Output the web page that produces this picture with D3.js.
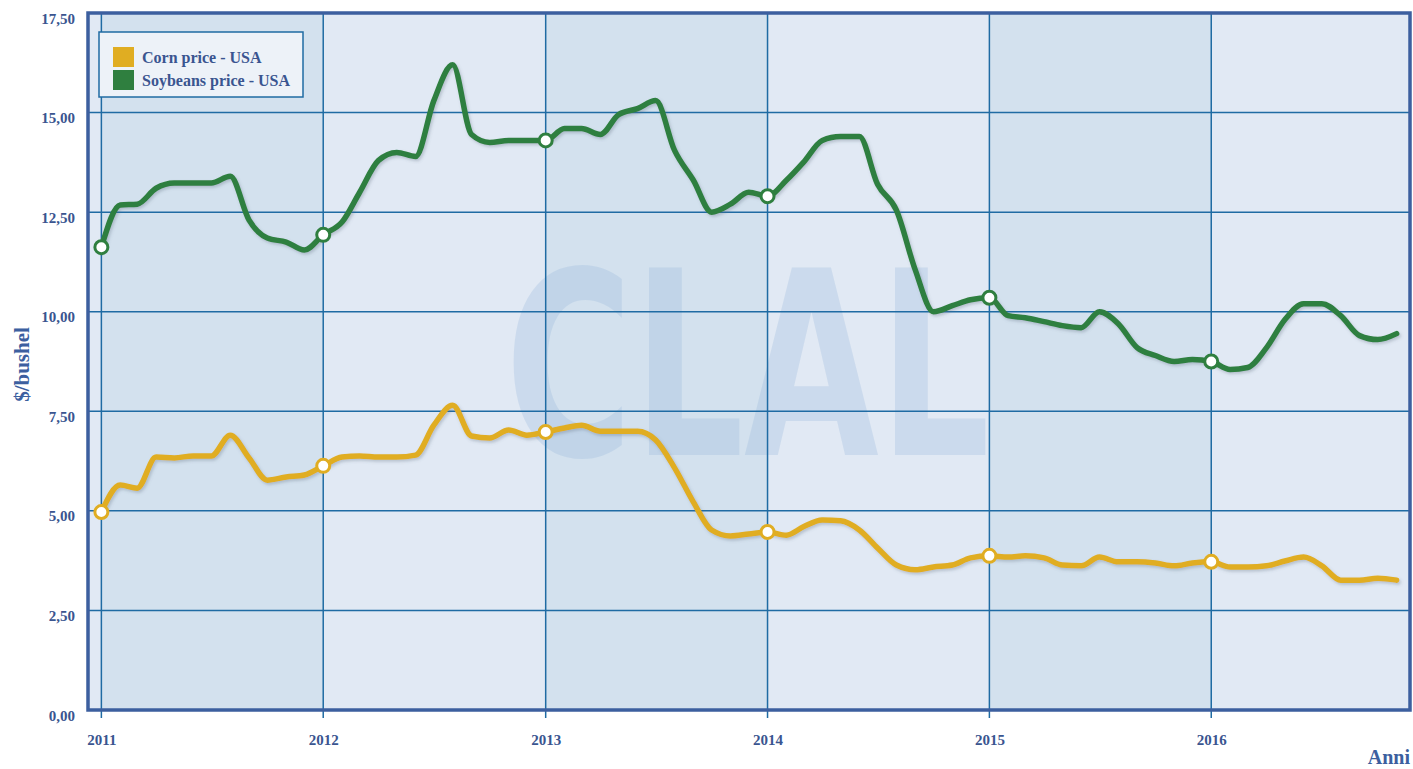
<!DOCTYPE html>
<html>
<head>
<meta charset="utf-8">
<script src="https://cdn.jsdelivr.net/npm/d3@7"></script>
<style>
  html, body { margin: 0; padding: 0; background: #ffffff; }
  svg { display: block; }
</style>
</head>
<body>
<svg id="chart" width="1413" height="769"></svg>
<script>
// ---- Data (monthly, Jan 2011 .. Nov 2016) ----
const startYear = 2011;
const yearTicks = [2011, 2012, 2013, 2014, 2015, 2016];
const yTicks = [0, 2.5, 5, 7.5, 10, 12.5, 15, 17.5];
const seriesNames = ["Corn price - USA", "Soybeans price - USA"];

const cornValues = [
  4.97, 5.65, 5.57, 6.35, 6.33, 6.38, 6.38, 6.90, 6.33, 5.77, 5.85, 5.90,
  6.13, 6.35, 6.38, 6.35, 6.35, 6.40, 7.15, 7.65, 6.88, 6.83, 7.03, 6.90,
  6.98, 7.08, 7.15, 7.00, 7.00, 7.00, 6.78, 6.08, 5.22, 4.52, 4.37, 4.42,
  4.47, 4.39, 4.60, 4.77, 4.75, 4.52, 4.07, 3.64, 3.52, 3.59, 3.64, 3.82,
  3.87, 3.84, 3.87, 3.82, 3.64, 3.62, 3.84, 3.72, 3.72, 3.69, 3.62, 3.69,
  3.72, 3.59, 3.59, 3.62, 3.74, 3.84, 3.62, 3.26, 3.26, 3.31, 3.26
];
const soyValues = [
  11.62, 12.68, 12.70, 13.10, 13.23, 13.23, 13.23, 13.40, 12.30, 11.85, 11.75, 11.55,
  11.93, 12.25, 13.00, 13.80, 14.00, 13.90, 15.30, 16.20, 14.45, 14.25, 14.30, 14.30,
  14.30, 14.60, 14.60, 14.45, 14.95, 15.10, 15.30, 14.05, 13.30, 12.50, 12.70, 13.00,
  12.90, 13.30, 13.75, 14.30, 14.40, 14.40, 13.20, 12.55, 11.05, 10.00, 10.15, 10.30,
  10.35, 9.90, 9.85, 9.75, 9.65, 9.60, 10.00, 9.70, 9.10, 8.90, 8.75, 8.80,
  8.75, 8.55, 8.60, 9.10, 9.80, 10.20, 10.20, 9.90, 9.40, 9.30, 9.45
];

const colors = { corn: "#e0ad22", soy: "#2f7f3f" };

// ---- Layout ----
const svg = d3.select("#chart");
const L = 88, R = 1410, T = 13, B = 710;

const dateOf = i => new Date(startYear, i, 1);
const x = d3.scaleTime()
  .domain([new Date(2010, 11, 10), new Date(2016, 10, 23)])
  .range([L, R]);
const y = d3.scaleLinear().domain([0, 17.5]).range([B, T]);

const defs = svg.append("defs");
const f = defs.append("filter").attr("id", "shadow")
  .attr("x", "-5%").attr("y", "-5%").attr("width", "110%").attr("height", "120%");
f.append("feDropShadow").attr("dx", 1.5).attr("dy", 2).attr("stdDeviation", 1.5)
  .attr("flood-color", "#556677").attr("flood-opacity", 0.3);
defs.append("clipPath").attr("id", "plotclip").append("rect")
  .attr("x", L).attr("y", T).attr("width", R - L).attr("height", B - T);

// ---- Background bands ----
const bandEdges = [x.domain()[0], ...yearTicks.map(yr => new Date(yr, 0, 1)), x.domain()[1]];
const bandG = svg.append("g");
for (let k = 0; k < bandEdges.length - 1; k++) {
  const x0 = x(bandEdges[k]), x1 = x(bandEdges[k + 1]);
  bandG.append("rect")
    .attr("x", x0).attr("y", T).attr("width", x1 - x0).attr("height", B - T)
    .attr("fill", (k % 2 === 1) ? "#d3e1ee" : "#e1e9f4");
}

// ---- Watermark ----
svg.append("text")
  .attr("x", 505).attr("y", 455)
  .attr("textLength", 485).attr("lengthAdjust", "spacingAndGlyphs")
  .attr("font-family", "DejaVu Sans").attr("font-weight", "bold")
  .attr("font-size", 256)
  .attr("fill", "#8eb0da").attr("fill-opacity", 0.26)
  .text("CLAL");

// ---- Grid ----
const grid = svg.append("g").attr("stroke", "#1f6ba3").attr("stroke-width", 1.5);
yTicks.filter(v => v > 0 && v < 17.5).forEach(v => {
  grid.append("line").attr("x1", L).attr("x2", R).attr("y1", y(v)).attr("y2", y(v));
});
yearTicks.forEach(yr => {
  const xx = x(new Date(yr, 0, 1));
  grid.append("line").attr("x1", xx).attr("x2", xx).attr("y1", T).attr("y2", B + 8);
});

// ---- Lines ----
const line = d3.line()
  .x((d, i) => x(dateOf(i)))
  .y(d => y(d))
  .curve(d3.curveMonotoneX);

const plot = svg.append("g").attr("clip-path", "url(#plotclip)");
[[cornValues, colors.corn], [soyValues, colors.soy]].forEach(([vals, c]) => {
  plot.append("path").datum(vals)
    .attr("d", line)
    .attr("fill", "none").attr("stroke", c).attr("stroke-width", 5.5)
    .attr("stroke-linejoin", "round").attr("stroke-linecap", "round")
    .attr("filter", "url(#shadow)");
});

// ---- Year markers ----
[[cornValues, colors.corn], [soyValues, colors.soy]].forEach(([vals, c]) => {
  vals.forEach((v, i) => {
    if (i % 12 === 0) {
      svg.append("circle")
        .attr("cx", x(dateOf(i))).attr("cy", y(v)).attr("r", 6.5)
        .attr("fill", "#ffffff").attr("stroke", c).attr("stroke-width", 3);
    }
  });
});

// ---- Frame ----
svg.append("rect")
  .attr("x", L).attr("y", T).attr("width", R - L).attr("height", B - T)
  .attr("fill", "none").attr("stroke", "#3c5f9f").attr("stroke-width", 3.5);

// ---- Axes labels ----
const fmt = v => d3.format(".2f")(v).replace(".", ",");
const textColor = "#3a5590";
const yAx = svg.append("g")
  .attr("transform", `translate(${L - 13},7)`)
  .call(d3.axisLeft(y).tickValues(yTicks).tickFormat(fmt).tickSize(0).tickPadding(0));
yAx.select(".domain").remove();
yAx.selectAll("text")
  .attr("font-family", "Liberation Serif").attr("font-weight", "bold")
  .attr("font-size", 15).attr("fill", textColor).attr("dy", "0.2em");

const xAx = svg.append("g")
  .attr("transform", `translate(0,${B + 23})`)
  .call(d3.axisBottom(x).tickValues(yearTicks.map(yr => new Date(yr, 0, 1)))
    .tickFormat(d3.timeFormat("%Y")).tickSize(0).tickPadding(0));
xAx.select(".domain").remove();
xAx.selectAll("text")
  .attr("font-family", "Liberation Serif").attr("font-weight", "bold")
  .attr("font-size", 15).attr("fill", textColor).attr("dy", "0.8em");

svg.append("text")
  .attr("transform", `translate(29,${(T + B) / 2 + 3}) rotate(-90)`)
  .attr("text-anchor", "middle")
  .attr("font-family", "Liberation Serif").attr("font-weight", "bold")
  .attr("font-size", 21).attr("fill", "#3c5f9f")
  .text("$/bushel");

svg.append("text")
  .attr("x", 1410).attr("y", 764).attr("text-anchor", "end")
  .attr("font-family", "Liberation Serif").attr("font-weight", "bold")
  .attr("font-size", 20).attr("fill", "#3c5f9f")
  .text("Anni");

// ---- Legend ----
const lg = svg.append("g");
lg.append("rect").attr("x", 99).attr("y", 32).attr("width", 204).attr("height", 65)
  .attr("fill", "#edf2f8").attr("stroke", "#1f6ba3").attr("stroke-width", 1.5);
[colors.corn, colors.soy].forEach((c, k) => {
  lg.append("rect").attr("x", 113).attr("y", 47 + k * 23).attr("width", 21).attr("height", 20)
    .attr("fill", c);
  lg.append("text").attr("x", 142).attr("y", 63 + k * 23)
    .attr("font-family", "Liberation Serif").attr("font-weight", "bold")
    .attr("font-size", 16).attr("fill", textColor)
    .text(seriesNames[k]);
});
</script>
</body>
</html>
